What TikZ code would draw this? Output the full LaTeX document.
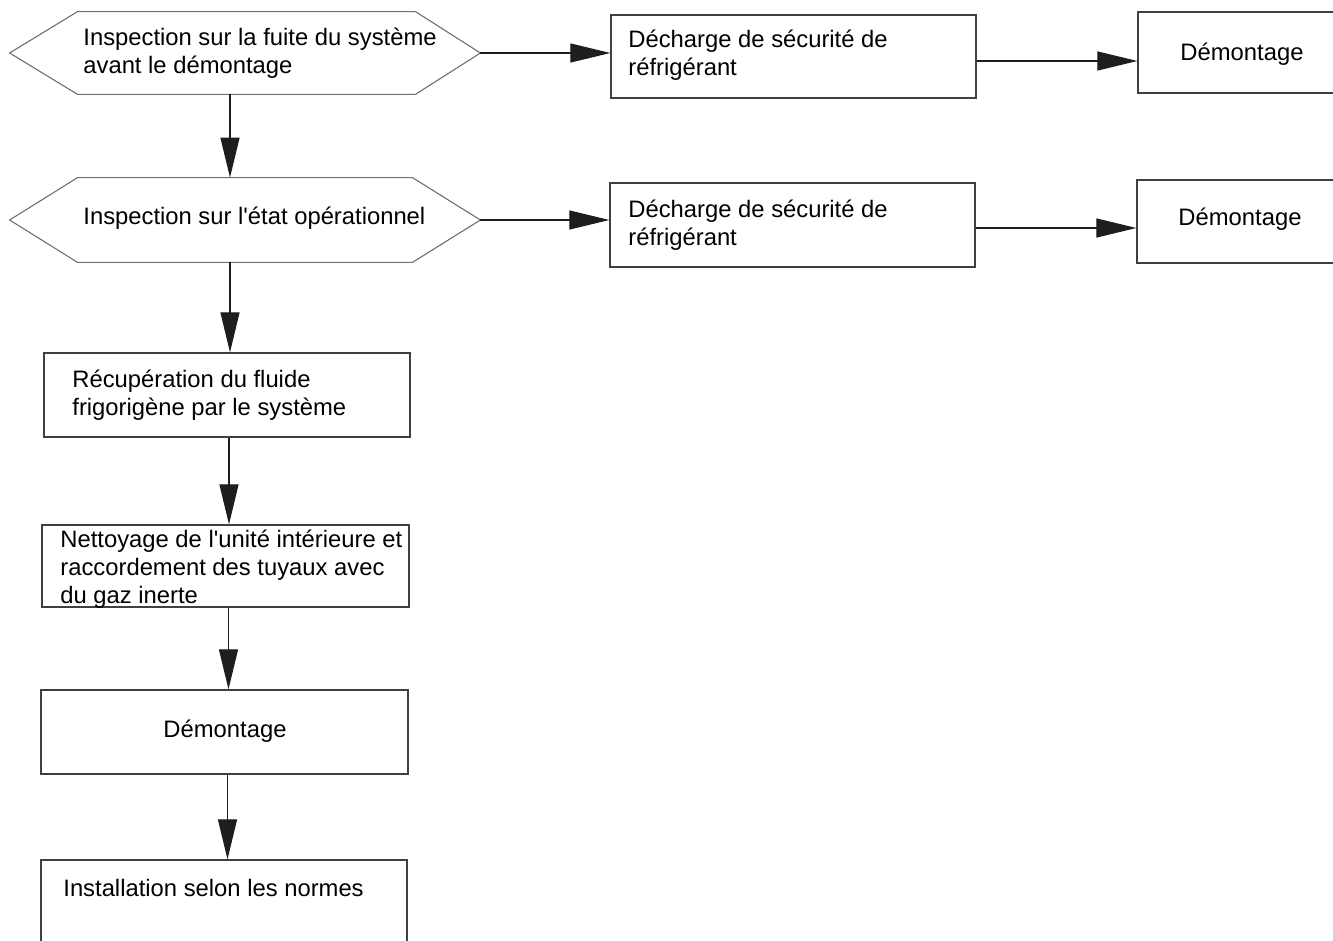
\documentclass[tikz,border=0pt]{standalone}
\usepackage{fontspec}
\setmainfont{Liberation Sans}[Ligatures=TeXOff]
\usetikzlibrary{arrows.meta,calc}
\definecolor{hexgray}{HTML}{707070}
\definecolor{boxgray}{HTML}{404040}
\definecolor{arrgray}{HTML}{1E1E1E}
\begin{document}
\begin{tikzpicture}[x=0.5pt,y=-0.5pt,
  shapebox/.style={rectangle, draw=boxgray, line width=0.65pt, inner sep=0pt},
  hexbase/.style={rectangle, inner sep=0pt, minimum width=235pt},
  hexline/.style={draw=hexgray, line width=0.55pt},
  txt/.style={inner sep=0pt, align=left, font=\fontsize{11.9pt}{14pt}\selectfont},
  arr/.style={draw=arrgray, line width=0.6pt, -{Triangle[length=20pt,width=9.5pt]}}]
\clip (0,0) rectangle (1333,941);
\fill[white] (0,0) rectangle (1333,941);

% hexagons
\node[hexbase, minimum height=41pt] (h1) at (245,53) {};
\node[hexbase, minimum height=42pt] (h2) at (245,220) {};
\draw[hexline] (h1.west) -- ($(h1.north west)+(68,0)$) -- ($(h1.north east)+(-65,0)$) -- (h1.east)
  -- ($(h1.south east)+(-65,0)$) -- ($(h1.south west)+(68,0)$) -- cycle;
\draw[hexline] (h2.west) -- ($(h2.north west)+(68,0)$) -- ($(h2.north east)+(-68,0)$) -- (h2.east)
  -- ($(h2.south east)+(-68,0)$) -- ($(h2.south west)+(68,0)$) -- cycle;

% boxes
\node[shapebox, minimum width=182.5pt, minimum height=41.5pt] (d1) at (793.5,56.5) {};
\node[shapebox, minimum width=182.5pt, minimum height=42pt] (d2) at (792.5,225) {};
\node[shapebox, minimum width=104pt, minimum height=40.5pt] (m1) at (1242,52.5) {};
\node[shapebox, minimum width=104pt, minimum height=41.5pt] (m2) at (1241,221.5) {};
\node[shapebox, minimum width=183pt, minimum height=42pt] (b3) at (227,395) {};
\node[shapebox, minimum width=183.5pt, minimum height=41pt] (b4) at (225.5,566) {};
\node[shapebox, minimum width=183.5pt, minimum height=42pt] (b5) at (224.5,732) {};
\node[shapebox, minimum width=183pt, minimum height=50pt] (b6) at (224,910) {};

% texts
\node[txt, anchor=west] (t1) at (83,53) {Inspection sur la fuite du système\\avant le démontage};
\node[txt, anchor=west] (t2) at (83,218) {Inspection sur l'état opérationnel};
\node[txt, anchor=west] (td1) at (628,55) {Décharge de sécurité de\\réfrigérant};
\node[txt, anchor=west] (td2) at (628,225) {Décharge de sécurité de\\réfrigérant};
\node[txt] (tm1) at (1242,54) {Démontage};
\node[txt] (tm2) at (1240,219) {Démontage};
\node[txt, anchor=west] (t3) at (72,395) {Récupération du fluide\\frigorigène par le système};
\node[txt, anchor=west] (t4) at (60,569) {Nettoyage de l'unité intérieure et\\raccordement des tuyaux avec\\du gaz inerte};
\node[txt] (t5) at (225,731) {Démontage};
\node[txt, anchor=west] (t6) at (63,888) {Installation selon les normes};

% connectors
\draw[arr] (h1.east) -- (h1.east -| d1.west);
\coordinate (a2) at ($(d1.east)+(0,4.5)$);
\draw[arr] (a2) -- (a2 -| m1.west);
\draw[arr] (h2.east) -- (h2.east -| d2.west);
\coordinate (a5) at ($(d2.east)+(0,3)$);
\draw[arr] (a5) -- (a5 -| m2.west);
\coordinate (v1) at ($(h1.south)+(-15,0)$);
\draw[arr] (v1) -- (v1 |- h2.north);
\coordinate (v2) at ($(h2.south)+(-15,0)$);
\draw[arr] (v2) -- (v2 |- b3.north);
\coordinate (v3) at ($(b3.south)+(2,0)$);
\draw[arr] (v3) -- (v3 |- b4.north);
\coordinate (v4) at ($(b4.south)+(3,0)$);
\draw[arr] (v4) -- (v4 |- b5.north);
\coordinate (v5) at ($(b5.south)+(3,0)$);
\draw[arr] (v5) -- (v5 |- b6.north);
\end{tikzpicture}
\end{document}
